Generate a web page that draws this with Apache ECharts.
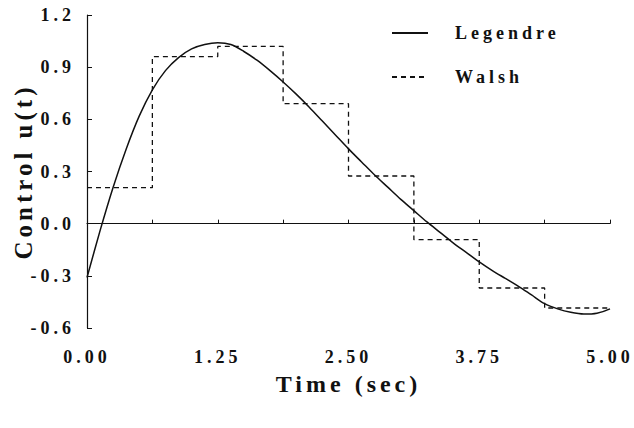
<!DOCTYPE html>
<html>
<head>
<meta charset="utf-8">
<script src="https://cdn.jsdelivr.net/npm/echarts@6/dist/echarts.min.js"></script>
<style>
	html, body { margin: 0; padding: 0; background: #fff; }
	#controlChart { width: 634px; height: 428px; }
	#controlChart text { letter-spacing: 4px; }
</style>
</head>
<body>
<div id="controlChart"></div>
<script>
/* 数据部分 */
// Legendre 连续控制曲线（时间，控制量），每 0.125 s 读一个点
const legendreTimes = [0.000, 0.125, 0.250, 0.375, 0.500, 0.625, 0.750, 0.875, 1.000, 1.125, 1.250,
	1.375, 1.500, 1.625, 1.750, 1.875, 2.000, 2.125, 2.250, 2.375, 2.500,
	2.625, 2.750, 2.875, 3.000, 3.125, 3.250, 3.375, 3.500, 3.625, 3.750,
	3.875, 4.000, 4.125, 4.250, 4.375, 4.500, 4.625, 4.750, 4.875, 5.000];
const legendreValues = [-0.31, -0.04, 0.21, 0.43, 0.62, 0.77, 0.88, 0.955, 1.005, 1.03, 1.04,
	1.03, 0.99, 0.94, 0.88, 0.815, 0.745, 0.67, 0.59, 0.51, 0.43,
	0.355, 0.28, 0.21, 0.14, 0.075, 0.01, -0.05, -0.11, -0.165, -0.22,
	-0.27, -0.315, -0.36, -0.41, -0.46, -0.49, -0.51, -0.52, -0.515, -0.49];
// Walsh 分段常数控制（8 段）
const walshBreaks = [0, 0.625, 1.25, 1.875, 2.5, 3.125, 3.75, 4.375, 5];
const walshLevels = [0.207, 0.961, 1.019, 0.69, 0.274, -0.092, -0.37, -0.485];
// 坐标轴刻度
const xTicks = [0.00, 1.25, 2.50, 3.75, 5.00];
const yTicks = [-0.6, -0.3, 0.0, 0.3, 0.6, 0.9, 1.2];

const serif = '"Liberation Serif", "DejaVu Serif", serif';

(function () {
	let legendreData = legendreTimes.map((t, i) => [t, legendreValues[i]]);
	let walshData = walshBreaks.map((t, i) => [t, walshLevels[Math.min(i, walshLevels.length - 1)]]);

	let chart = echarts.init(document.getElementById('controlChart'), null, { renderer: 'svg' });
	chart.setOption({
		backgroundColor: '#fff',
		animation: false,
		grid: { left: 87, right: 24, top: 15, bottom: 100 },
		legend: {
			orient: 'vertical',
			left: 386,
			top: 19,
			itemWidth: 36,
			itemHeight: 14,
			itemGap: 26,
			selectedMode: false,
			itemStyle: { opacity: 0 },
			textStyle: { fontFamily: serif, fontSize: 18, fontWeight: 'bold', color: '#111', padding: [0, 0, 0, 22] },
			data: ['Legendre', 'Walsh']
		},
		xAxis: {
			type: 'value',
			min: xTicks[0],
			max: xTicks[xTicks.length - 1],
			interval: xTicks[1] - xTicks[0],
			name: 'Time (sec)',
			nameLocation: 'middle',
			nameGap: 44,
			nameTextStyle: { fontFamily: serif, fontSize: 24, fontWeight: 'bold', color: '#111' },
			axisLine: { lineStyle: { color: '#111', width: 1.2 } },
			axisTick: { inside: true, length: 4, lineStyle: { color: '#111' } },
			minorTick: { show: true, splitNumber: 2, length: 4, lineStyle: { color: '#111' } },
			axisLabel: { margin: 20, fontFamily: serif, fontSize: 18, fontWeight: 'bold', color: '#111',
				formatter: v => v.toFixed(2) },
			splitLine: { show: false }
		},
		yAxis: {
			type: 'value',
			min: yTicks[0],
			max: yTicks[yTicks.length - 1],
			interval: 0.3,
			name: 'Control u(t)',
			nameLocation: 'middle',
			nameRotate: 90,
			nameGap: 47,
			nameTextStyle: { fontFamily: serif, fontSize: 25, fontWeight: 'bold', color: '#111' },
			axisLine: { show: true, lineStyle: { color: '#111', width: 1.2 } },
			axisTick: { show: true, inside: true, length: 5, lineStyle: { color: '#111' } },
			axisLabel: { margin: 12, fontFamily: serif, fontSize: 18, fontWeight: 'bold', color: '#111',
				formatter: v => (Math.abs(v) < 1e-9 ? 0 : v).toFixed(1) },
			splitLine: { show: false }
		},
		series: [{
			name: 'Legendre',
			type: 'line',
			data: legendreData,
			smooth: 0.3,
			symbol: 'none',
			lineStyle: { color: '#111', width: 1.5 },
			itemStyle: { color: '#111' },
			markLine: {
				silent: true,
				symbol: 'none',
				label: { show: false },
				lineStyle: { color: '#111', type: 'solid', width: 1.2 },
				data: [{ yAxis: 0 }]
			}
		}, {
			name: 'Walsh',
			type: 'line',
			data: walshData,
			step: 'end',
			symbol: 'none',
			lineStyle: { color: '#111', width: 1.3, type: [5, 4] },
			itemStyle: { color: '#111' }
		}]
	});
})();
</script>
</body>
</html>
